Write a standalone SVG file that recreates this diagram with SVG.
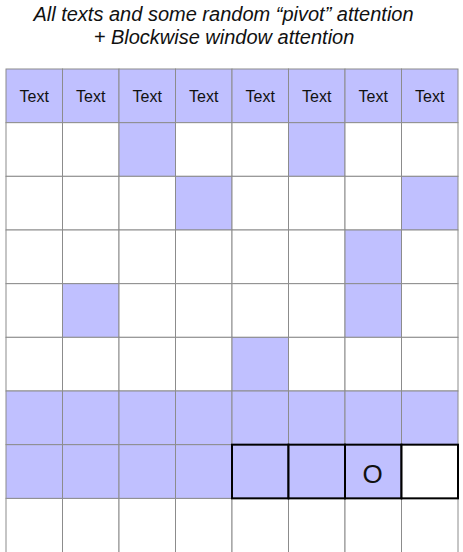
<svg xmlns="http://www.w3.org/2000/svg" width="463" height="552" viewBox="0 0 463 552">
<style>
.t{font-family:"Liberation Sans",Arial,sans-serif;font-style:italic;font-size:20px;fill:#111;text-anchor:middle}
.c{stroke:#8c8c8c;stroke-width:1;fill:#fff}
.f{stroke:#8c8c8c;stroke-width:1;fill:#c0c0ff}
.k{stroke:#000;stroke-width:2}
.lbl{font-family:"Liberation Sans",Arial,sans-serif;font-size:16px;fill:#111;text-anchor:middle}
</style>
<rect width="463" height="552" fill="#fff"/>
<g id="title">
<text class="t" x="223.5" y="21">All texts and some random “pivot” attention</text>
<text class="t" x="224" y="44">+ Blockwise window attention</text>
</g>
<g id="row0">
<rect class="f" x="6" y="69" width="56.5" height="53.67"/><text class="lbl" x="34.25" y="102">Text</text>
<rect class="f" x="62.5" y="69" width="56.5" height="53.67"/><text class="lbl" x="90.75" y="102">Text</text>
<rect class="f" x="119" y="69" width="56.5" height="53.67"/><text class="lbl" x="147.25" y="102">Text</text>
<rect class="f" x="175.5" y="69" width="56.5" height="53.67"/><text class="lbl" x="203.75" y="102">Text</text>
<rect class="f" x="232" y="69" width="56.5" height="53.67"/><text class="lbl" x="260.25" y="102">Text</text>
<rect class="f" x="288.5" y="69" width="56.5" height="53.67"/><text class="lbl" x="316.75" y="102">Text</text>
<rect class="f" x="345" y="69" width="56.5" height="53.67"/><text class="lbl" x="373.25" y="102">Text</text>
<rect class="f" x="401.5" y="69" width="56.5" height="53.67"/><text class="lbl" x="429.75" y="102">Text</text>
</g>
<g id="row1">
<rect class="c" x="6" y="122.67" width="56.5" height="53.67"/>
<rect class="c" x="62.5" y="122.67" width="56.5" height="53.67"/>
<rect class="f" x="119" y="122.67" width="56.5" height="53.67"/>
<rect class="c" x="175.5" y="122.67" width="56.5" height="53.67"/>
<rect class="c" x="232" y="122.67" width="56.5" height="53.67"/>
<rect class="f" x="288.5" y="122.67" width="56.5" height="53.67"/>
<rect class="c" x="345" y="122.67" width="56.5" height="53.67"/>
<rect class="c" x="401.5" y="122.67" width="56.5" height="53.67"/>
</g>
<g id="row2">
<rect class="c" x="6" y="176.33" width="56.5" height="53.67"/>
<rect class="c" x="62.5" y="176.33" width="56.5" height="53.67"/>
<rect class="c" x="119" y="176.33" width="56.5" height="53.67"/>
<rect class="f" x="175.5" y="176.33" width="56.5" height="53.67"/>
<rect class="c" x="232" y="176.33" width="56.5" height="53.67"/>
<rect class="c" x="288.5" y="176.33" width="56.5" height="53.67"/>
<rect class="c" x="345" y="176.33" width="56.5" height="53.67"/>
<rect class="f" x="401.5" y="176.33" width="56.5" height="53.67"/>
</g>
<g id="row3">
<rect class="c" x="6" y="230" width="56.5" height="53.67"/>
<rect class="c" x="62.5" y="230" width="56.5" height="53.67"/>
<rect class="c" x="119" y="230" width="56.5" height="53.67"/>
<rect class="c" x="175.5" y="230" width="56.5" height="53.67"/>
<rect class="c" x="232" y="230" width="56.5" height="53.67"/>
<rect class="c" x="288.5" y="230" width="56.5" height="53.67"/>
<rect class="f" x="345" y="230" width="56.5" height="53.67"/>
<rect class="c" x="401.5" y="230" width="56.5" height="53.67"/>
</g>
<g id="row4">
<rect class="c" x="6" y="283.67" width="56.5" height="53.67"/>
<rect class="f" x="62.5" y="283.67" width="56.5" height="53.67"/>
<rect class="c" x="119" y="283.67" width="56.5" height="53.67"/>
<rect class="c" x="175.5" y="283.67" width="56.5" height="53.67"/>
<rect class="c" x="232" y="283.67" width="56.5" height="53.67"/>
<rect class="c" x="288.5" y="283.67" width="56.5" height="53.67"/>
<rect class="f" x="345" y="283.67" width="56.5" height="53.67"/>
<rect class="c" x="401.5" y="283.67" width="56.5" height="53.67"/>
</g>
<g id="row5">
<rect class="c" x="6" y="337.33" width="56.5" height="53.67"/>
<rect class="c" x="62.5" y="337.33" width="56.5" height="53.67"/>
<rect class="c" x="119" y="337.33" width="56.5" height="53.67"/>
<rect class="c" x="175.5" y="337.33" width="56.5" height="53.67"/>
<rect class="f" x="232" y="337.33" width="56.5" height="53.67"/>
<rect class="c" x="288.5" y="337.33" width="56.5" height="53.67"/>
<rect class="c" x="345" y="337.33" width="56.5" height="53.67"/>
<rect class="c" x="401.5" y="337.33" width="56.5" height="53.67"/>
</g>
<g id="row6">
<rect class="f" x="6" y="391" width="56.5" height="53.67"/>
<rect class="f" x="62.5" y="391" width="56.5" height="53.67"/>
<rect class="f" x="119" y="391" width="56.5" height="53.67"/>
<rect class="f" x="175.5" y="391" width="56.5" height="53.67"/>
<rect class="f" x="232" y="391" width="56.5" height="53.67"/>
<rect class="f" x="288.5" y="391" width="56.5" height="53.67"/>
<rect class="f" x="345" y="391" width="56.5" height="53.67"/>
<rect class="f" x="401.5" y="391" width="56.5" height="53.67"/>
</g>
<g id="row8">
<rect class="c" x="6" y="498.33" width="56.5" height="60"/>
<rect class="c" x="62.5" y="498.33" width="56.5" height="60"/>
<rect class="c" x="119" y="498.33" width="56.5" height="60"/>
<rect class="c" x="175.5" y="498.33" width="56.5" height="60"/>
<rect class="c" x="232" y="498.33" width="56.5" height="60"/>
<rect class="c" x="288.5" y="498.33" width="56.5" height="60"/>
<rect class="c" x="345" y="498.33" width="56.5" height="60"/>
<rect class="c" x="401.5" y="498.33" width="56.5" height="60"/>
</g>
<g id="row7">
<rect class="f" x="6" y="444.67" width="56.5" height="53.67"/>
<rect class="f" x="62.5" y="444.67" width="56.5" height="53.67"/>
<rect class="f" x="119" y="444.67" width="56.5" height="53.67"/>
<rect class="f" x="175.5" y="444.67" width="56.5" height="53.67"/>
<rect class="f k" x="232" y="444.67" width="56.5" height="53.67"/>
<rect class="f k" x="288.5" y="444.67" width="56.5" height="53.67"/>
<rect class="f k" x="345" y="444.67" width="56.5" height="53.67"/>
<rect class="c k" x="401.5" y="444.67" width="56.5" height="53.67"/>
<text x="372.5" y="483" style="font-family:'Liberation Sans',Arial,sans-serif;font-size:26px;fill:#111;text-anchor:middle">O</text>
</g>
</svg>
